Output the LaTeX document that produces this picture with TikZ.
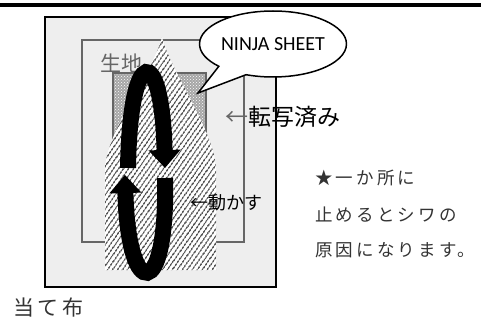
\documentclass[tikz,border=0pt]{standalone}
\usepackage{fontspec}
\newfontfamily\jpfont{Noto Sans CJK JP}
\newfontfamily\jpwide[LetterSpace=18]{Noto Sans CJK JP}
\newfontfamily\calfont{Carlito}
\usetikzlibrary{positioning}
\usetikzlibrary{shapes.callouts}
\usetikzlibrary{arrows.meta}
\usetikzlibrary{patterns,patterns.meta}
\definecolor{padgray}{HTML}{EEEEEE}
\definecolor{framegray}{HTML}{666666}
\definecolor{notegray}{HTML}{333333}
\tikzset{
	bigturn/.style={line width=16pt, -{Triangle[width=31pt,length=18pt]}},
	hatchsheet/.style={pattern={Lines[angle=55,distance=4pt,line width=1.1pt]}},
	jptext/.style={inner sep=0pt, font=\jpfont\fontsize{#1}{#1}\selectfont},
	jpnote/.style={inner sep=0pt, anchor=west, text=notegray, font=\jpwide\fontsize{#1}{#1}\selectfont},
}
\begin{document}
\begin{tikzpicture}[x=1pt, y=-1pt]
	\useasboundingbox (0,0) rectangle (481,321);
	\draw[line width=3.5pt] (0,5) -- (481,5);
	% pad and fabric
	\draw[fill=padgray, line width=2pt] (45,17) rectangle (276,287);
	\draw[framegray, line width=1.6pt] (82,40) rectangle (244,242);
	\node[jptext=21pt, text=framegray] (fabric) at (121,63) {生地};
	% transferred part
	\fill[gray!70] (113,73) rectangle (206,143);
	\fill[pattern=crosshatch dots, pattern color=white] (113,73) rectangle (206,143);
	\draw[framegray, line width=1.2pt] (113,73) rectangle (206,143);
	% sheet
	\path[hatchsheet, preaction={fill=white}] (105,168) .. controls (107,130) and (154,70) .. (162,37)
		.. controls (170,70) and (214,130) .. (216,168) -- (216,270) -- (105,270) -- cycle;
	\draw[bigturn] (128,168) .. controls (130,43) and (162,43) .. (165,168);
	\draw[bigturn] (165,178) .. controls (168,302) and (128,302) .. (125,175);
	\node[ellipse callout, draw, fill=white, line width=1.5pt, minimum width=140pt, minimum height=66pt,
		inner sep=0pt, callout absolute pointer={(198,93)}, callout pointer arc=26,
		font=\calfont\fontsize{20pt}{20pt}\selectfont] (bubble) at (273,44) {NINJA SHEET};
	\node[jptext=23pt] (done) at (283,117) {\textcolor{framegray}{←}転写済み};
	\node[jptext=18pt] (move) at (226,203) {←動かす};
	\node[jpnote=21pt] (pad) at (13,308) {当て布};
	\node[jpnote=17.5pt] (note1) at (315,178) {★一か所に};
	\node[jpnote=17.5pt] (note2) at (315,215) {止めるとシワの};
	\node[jpnote=17.5pt] (note3) at (315,250) {原因になります。};
\end{tikzpicture}
\end{document}
